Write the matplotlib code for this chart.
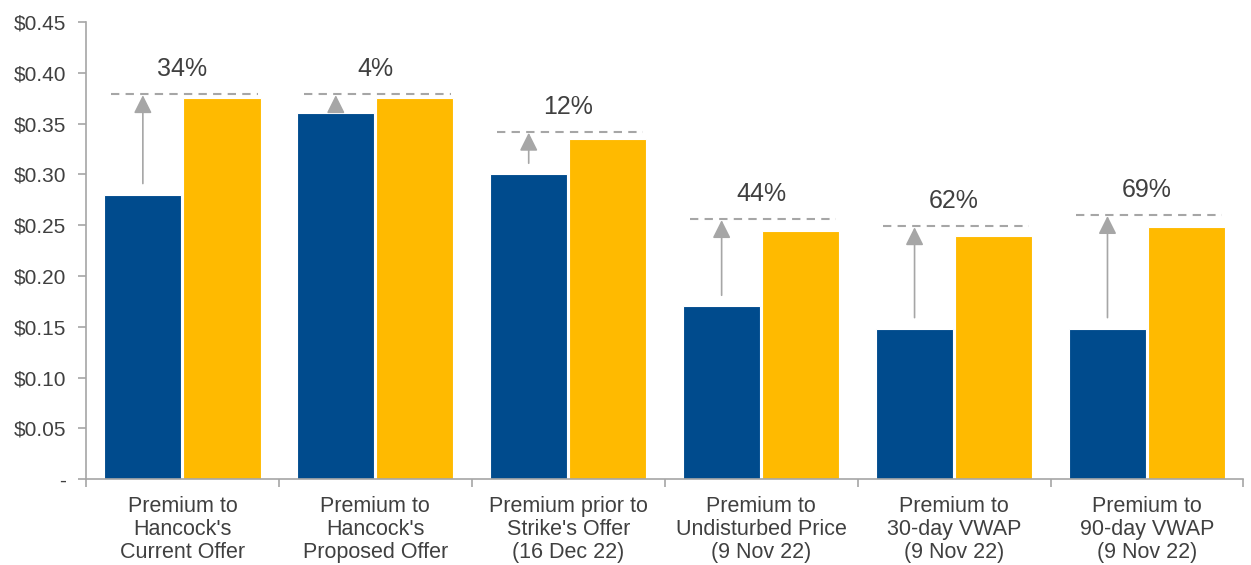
import matplotlib.pyplot as plt
import numpy as np

plt.rcParams["font.family"] = ["Liberation Sans", "DejaVu Sans"]

categories = [
    "Premium to\nHancock's\nCurrent Offer",
    "Premium to\nHancock's\nProposed Offer",
    "Premium prior to\nStrike's Offer\n(16 Dec 22)",
    "Premium to\nUndisturbed Price\n(9 Nov 22)",
    "Premium to\n30-day VWAP\n(9 Nov 22)",
    "Premium to\n90-day VWAP\n(9 Nov 22)",
]
reference_price = [0.280, 0.360, 0.300, 0.170, 0.148, 0.148]
offer_price = [0.375, 0.375, 0.335, 0.244, 0.239, 0.248]
dash_level = [0.379, 0.379, 0.342, 0.256, 0.249, 0.260]
premium_labels = ["34%", "4%", "12%", "44%", "62%", "69%"]
y_ticks = [0.0, 0.05, 0.10, 0.15, 0.20, 0.25, 0.30, 0.35, 0.40, 0.45]
y_tick_labels = ["-", "$0.05", "$0.10", "$0.15", "$0.20", "$0.25",
                 "$0.30", "$0.35", "$0.40", "$0.45"]

BLUE = "#004B8D"
YELLOW = "#FFBA00"
GREY = "#A6A6A6"
TEXT = "#404040"

fig = plt.figure(figsize=(12.51, 5.65), dpi=100)
ax = fig.add_axes([0.0687, 0.152, 0.9253, 0.809])

x = np.arange(len(categories))
w = 0.4
ax.bar(x - 0.205, reference_price, width=w, color=BLUE, edgecolor="white", linewidth=0.8)
ax.bar(x + 0.205, offer_price, width=w, color=YELLOW, edgecolor="white", linewidth=0.8)

for i in range(len(categories)):
    # dashed line just above the offer bar
    ax.plot([i - 0.37, i + 0.39], [dash_level[i], dash_level[i]],
            ls=(0, (4, 3)), color=GREY, lw=1.5, zorder=3)
    ax.annotate("", xy=(i - 0.205, dash_level[i] - 0.001),
                xytext=(i - 0.205, reference_price[i] + 0.011),
                arrowprops=dict(arrowstyle="-|>,head_length=1.1,head_width=0.55",
                                color=GREY, lw=1.2, shrinkA=0, shrinkB=0))
    ax.text(i, dash_level[i] + 0.013, premium_labels[i], ha="center", va="bottom",
            fontsize=18, color=TEXT)

ax.set_xlim(-0.5, len(categories) - 0.5)
ax.set_ylim(0, 0.45)
ax.set_yticks(y_ticks)
ax.set_yticklabels(y_tick_labels, fontsize=15, color=TEXT)
ax.set_xticks(x)
ax.set_xticklabels(categories, fontsize=15.5, color=TEXT, linespacing=1.12)
ax.set_xticks(np.arange(len(categories) + 1) - 0.5, minor=True)
ax.tick_params(axis="x", which="major", length=0, pad=12)
ax.tick_params(axis="x", which="minor", length=6, color=GREY, width=1.2)
ax.tick_params(axis="y", length=6, color=GREY, width=1.2, pad=8)

for side in ["top", "right"]:
    ax.spines[side].set_visible(False)
for side in ["left", "bottom"]:
    ax.spines[side].set_color(GREY)
    ax.spines[side].set_linewidth(1.2)

fig.savefig("out.png", dpi=100)
